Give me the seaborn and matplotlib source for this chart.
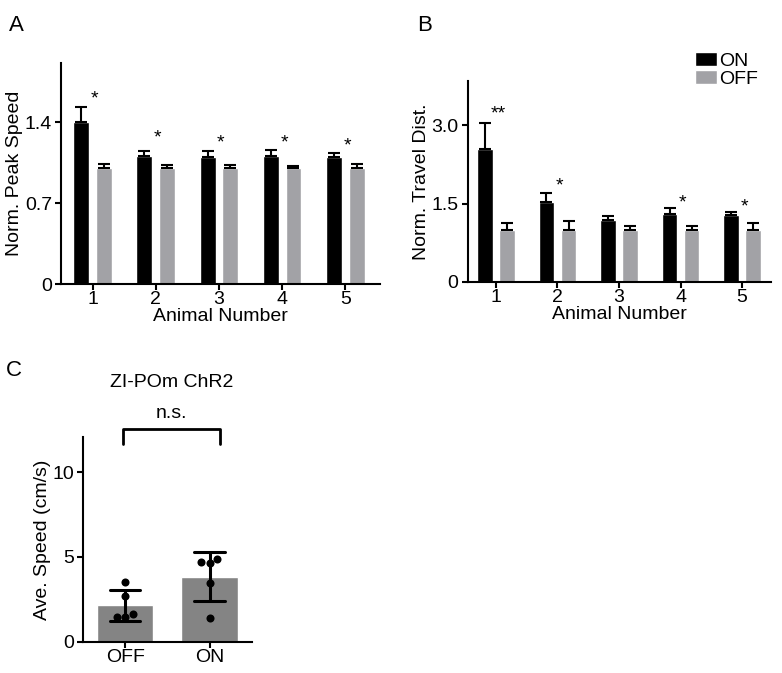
import matplotlib
matplotlib.use("Agg")
import matplotlib.pyplot as plt
import seaborn as sns
import pandas as pd
import numpy as np

# ---------------- data ----------------
animals = ["1", "2", "3", "4", "5"]
conditions = ["ON", "OFF"]

a_on = [1.40, 1.11, 1.10, 1.11, 1.10]
a_on_err = [0.13, 0.04, 0.05, 0.05, 0.03]
a_off = [1.00, 1.00, 1.00, 1.00, 1.00]
a_off_err = [0.04, 0.03, 0.03, 0.02, 0.04]
a_stars = ["*", "*", "*", "*", "*"]
a_star_y = [1.66, 1.32, 1.28, 1.28, 1.25]

b_on = [2.55, 1.54, 1.18, 1.30, 1.29]
b_on_err = [0.49, 0.16, 0.09, 0.11, 0.05]
b_off = [1.00, 1.00, 1.00, 1.00, 1.00]
b_off_err = [0.12, 0.16, 0.08, 0.08, 0.12]
b_stars = ["**", "*", "", "*", "*"]
b_star_y = [3.34, 1.96, 0.0, 1.63, 1.57]

c_groups = ["OFF", "ON"]
c_off_pts = [3.52, 2.70, 1.63, 1.44, 1.48]
c_on_pts = [4.88, 4.63, 4.72, 3.48, 1.42]

a_yticks = [0, 0.7, 1.4]
a_yticklabels = ["0", "0.7", "1.4"]
b_yticks = [0, 1.5, 3.0]
b_yticklabels = ["0", "1.5", "3.0"]
c_yticks = [0, 5, 10]

# ---------------- style ----------------
sns.set_style("ticks")
plt.rcParams["font.family"] = ["Liberation Sans", "DejaVu Sans"]
plt.rcParams["axes.linewidth"] = 1.5
plt.rcParams["xtick.major.width"] = 1.5
plt.rcParams["ytick.major.width"] = 1.5
plt.rcParams["xtick.major.size"] = 4.5
plt.rcParams["ytick.major.size"] = 4.5
plt.rcParams["xtick.color"] = "black"
plt.rcParams["ytick.color"] = "black"
plt.rcParams["axes.edgecolor"] = "black"
plt.rcParams["text.color"] = "black"
plt.rcParams["axes.labelcolor"] = "black"

ON_COLOR = "#000000"
OFF_COLOR = "#a2a2a6"
C_COLOR = "#848484"

fig = plt.figure(figsize=(7.82, 6.73), dpi=100)
axA = fig.add_axes([0.078, 0.578, 0.408, 0.328])
axB = fig.add_axes([0.598, 0.581, 0.388, 0.298])
axC = fig.add_axes([0.106, 0.0465, 0.216, 0.3035])


def grouped(ax, on, on_err, off, off_err, stars, star_y, ylabel, yticks, yticklabels, ylim):
    df = pd.DataFrame({
        "Animal": animals * 2,
        "Condition": ["ON"] * len(animals) + ["OFF"] * len(animals),
        "Value": list(on) + list(off),
    })
    sns.barplot(data=df, x="Animal", y="Value", hue="Condition", order=animals,
                hue_order=conditions, palette=[ON_COLOR, OFF_COLOR],
                errorbar=None, width=0.72, gap=0.3, ax=ax, saturation=1, legend=False)
    for cont, err in zip(ax.containers, [on_err, off_err]):
        xs = [p.get_x() + p.get_width() / 2 for p in cont.patches]
        hs = [p.get_height() for p in cont.patches]
        ax.errorbar(xs, hs, yerr=[np.zeros(len(err)), err], fmt="none",
                    ecolor="black", elinewidth=1.5, capsize=4, capthick=1.5, zorder=3)
    for i, (s, y) in enumerate(zip(stars, star_y)):
        if s:
            ax.annotate(s, (i + 0.03, y), xytext=(0, -8), textcoords="offset points",
                        ha="center", va="baseline", fontsize=14)
    ax.set_xlim(-0.5, 4.55)
    ax.set_ylim(*ylim)
    ax.set_yticks(yticks)
    ax.set_yticklabels(yticklabels)
    ax.set_xlabel("Animal Number", fontsize=14, labelpad=0)
    ax.set_ylabel(ylabel, fontsize=14, labelpad=1)
    ax.tick_params(labelsize=14)
    ax.tick_params(axis="x", pad=0.5)
    ax.tick_params(axis="y", pad=2)
    sns.despine(ax=ax)


grouped(axA, a_on, a_on_err, a_off, a_off_err, a_stars, a_star_y,
        "Norm. Peak Speed", a_yticks, a_yticklabels, (0, 1.91))
grouped(axB, b_on, b_on_err, b_off, b_off_err, b_stars, b_star_y,
        "Norm. Travel Dist.", b_yticks, b_yticklabels, (0, 3.84))
axB.set_xlim(-0.46, 4.47)

# legend for B
handles = [axB.containers[0].patches[0], axB.containers[1].patches[0]]
fig.legend(handles, conditions, loc="upper left", bbox_to_anchor=(0.889, 0.922),
           frameon=False, fontsize=14, handlelength=1.1, handleheight=0.72,
           handletextpad=0.15, labelspacing=0.0, borderpad=0, borderaxespad=0)

# ---------------- panel C ----------------
dfc = pd.DataFrame({
    "Group": ["OFF"] * len(c_off_pts) + ["ON"] * len(c_on_pts),
    "Speed": c_off_pts + c_on_pts,
})
sns.barplot(data=dfc, x="Group", y="Speed", order=c_groups, color=C_COLOR,
            saturation=1, errorbar="sd", capsize=0.36, width=0.67,
            err_kws={"color": "black", "linewidth": 2.2}, ax=axC)
sns.swarmplot(data=dfc, x="Group", y="Speed", order=c_groups, color="black",
              size=5.8, ax=axC, zorder=4)
axC.set_xlim(-0.5, 1.5)
axC.set_ylim(0, 12.04)
axC.set_yticks(c_yticks)
axC.set_xlabel("")
axC.set_ylabel("Ave. Speed (cm/s)", fontsize=14, labelpad=1)
axC.tick_params(labelsize=14)
axC.tick_params(axis="x", pad=1)
axC.tick_params(axis="y", pad=2)
sns.despine(ax=axC)
axC.text(0.55, 15.3, "ZI-POm ChR2", ha="center", va="center", fontsize=14)

# significance bracket
axC.plot([-0.02, -0.02, 1.12, 1.12], [11.67, 12.56, 12.56, 11.67], color="black",
         lw=2, clip_on=False)
axC.text(0.55, 13.45, "n.s.", ha="center", va="center", fontsize=14)

# panel letters
fig.text(0.012, 0.977, "A", fontsize=16, va="top")
fig.text(0.533, 0.977, "B", fontsize=16, va="top")
fig.text(0.008, 0.465, "C", fontsize=16, va="top")

fig.savefig("out.png", dpi=100)
